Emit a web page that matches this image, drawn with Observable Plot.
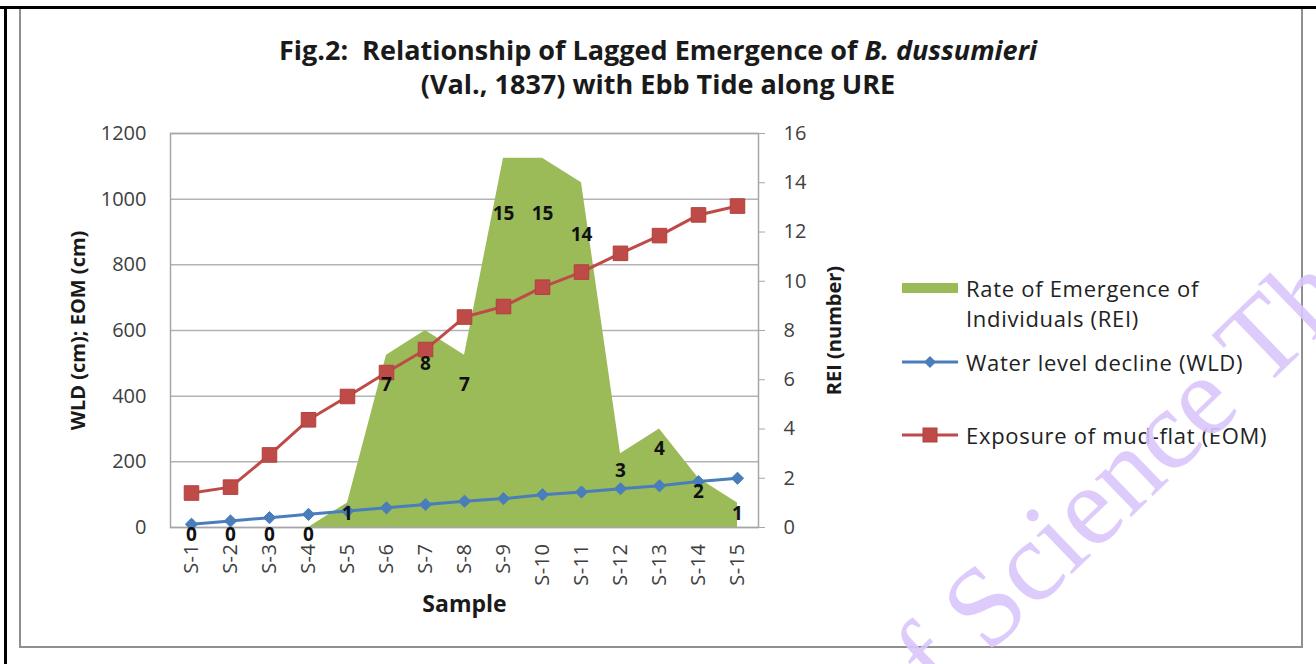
<!DOCTYPE html>
<html><head><meta charset="utf-8">
<script src="https://cdn.jsdelivr.net/npm/d3@7"></script>
<script src="https://cdn.jsdelivr.net/npm/@observablehq/plot@0.6"></script>
<style>
  body { margin: 0; background: #fff; }
  #page { position: relative; width: 1316px; height: 664px; overflow: hidden; font-family: "Open Sans", sans-serif; color: #222; }
  #outerTop { position: absolute; left: 0; top: 6px; width: 1316px; height: 3px; background: #000; }
  #outerLeft { position: absolute; left: 4px; top: 6px; width: 3px; height: 660px; background: #000; }
  #box { position: absolute; left: 19px; top: 9px; width: 1280px; height: 637px; border: 2px solid #8f8f8f; border-top: none; }
  #title { position: absolute; left: 0; width: 1316px; top: 33px; text-align: center; font-weight: bold; font-size: 27px; line-height: 34px; color: #1a1a1a; white-space: pre; }
  #chart { position: absolute; left: 0; top: 110px; }
  #legend { position: absolute; left: 900px; top: 273px; font-size: 22px; letter-spacing: 0.7px; color: #222; }
  .li { position: absolute; left: 0; white-space: nowrap; }
  .li svg { position: absolute; left: 0; }
  .li span { position: absolute; left: 66px; line-height: 30px; }
  #wm { position: absolute; left: 0; top: 0; pointer-events: none; }
</style>
</head><body>
<div id="page">
  <div id="outerTop"></div>
  <div id="outerLeft"></div>
  <div id="box"></div>
  <div id="title">Fig.2:  Relationship of Lagged Emergence of <i>B. dussumieri</i>
(Val., 1837) with Ebb Tide along URE</div>
  <div id="chart"></div>
  <div id="legend"></div>
  <svg id="wm" width="1316" height="664"></svg>
</div>
<script>
// ---- data ----
const samples = ["S-1","S-2","S-3","S-4","S-5","S-6","S-7","S-8","S-9","S-10","S-11","S-12","S-13","S-14","S-15"];
const rei = [0,0,0,0,1,7,8,7,15,15,14,3,4,2,1];               // Rate of Emergence of Individuals (right axis)
const wld = [10,20,30,40,50,60,70,80,88,100,108,118,127,140,150]; // Water level decline (cm)
const eom = [105,123,221,328,399,472,542,641,673,732,778,835,889,952,979]; // Exposure of mud-flat (cm)
const leftTicks = [0,200,400,600,800,1000,1200];
const rightTicks = [0,2,4,6,8,10,12,14,16];
const seriesNames = ["Rate of Emergence of\nIndividuals (REI)", "Water level decline (WLD)", "Exposure of mud-flat (EOM)"];

const LEFT_MAX = 1200, RIGHT_MAX = 16, k = LEFT_MAX / RIGHT_MAX;
const GREEN = "#9bbb59", BLUE = "#4a7ebb", RED = "#be4b48";

const rows = samples.map((s, i) => ({sample: s, rei: rei[i], wld: wld[i], eom: eom[i]}));

const chart = Plot.plot({
  width: 1316, height: 530,
  marginLeft: 170, marginRight: 558, marginTop: 23, marginBottom: 113,
  style: {fontFamily: "Open Sans, sans-serif", fontSize: "20px", color: "#404040", background: "transparent"},
  x: {type: "point", domain: samples, padding: 0.5},
  y: {domain: [0, LEFT_MAX]},
  marks: [
    Plot.gridY(leftTicks, {stroke: "#b3b3b3", strokeOpacity: 1, strokeWidth: 1.5}),
    Plot.areaY(rows, {x: "sample", y: d => d.rei * k, fill: GREEN, curve: "linear"}),
    Plot.frame({stroke: "#a6a6a6", strokeWidth: 1.5}),
    Plot.axisY(leftTicks, {anchor: "left", tickSize: 0, tickPadding: 24, fontSize: 20,
      tickFormat: d => String(d),
      label: "WLD (cm); EOM (cm)", labelAnchor: "center", labelArrow: "none", labelOffset: 100}),
    Plot.axisY(rightTicks.map(t => t * k), {anchor: "right", tickSize: 6, tickPadding: 19, stroke: "#a6a6a6",
      tickFormat: d => String(d / k), fontSize: 20,
      label: "REI (number)", labelAnchor: "center", labelArrow: "none", labelOffset: 82}),
    Plot.axisX({anchor: "bottom", tickSize: 0, tickPadding: 16, tickRotate: -90, fontSize: 20,
      label: "Sample", labelAnchor: "center", labelArrow: "none", labelOffset: 84}),
    Plot.line(rows, {x: "sample", y: "wld", stroke: BLUE, strokeWidth: 3}),
    Plot.dot(rows, {x: "sample", y: "wld", symbol: "diamond2", fill: BLUE, stroke: BLUE, strokeWidth: 1, r: 5.5}),
    Plot.line(rows, {x: "sample", y: "eom", stroke: RED, strokeWidth: 3}),
    Plot.dot(rows, {x: "sample", y: "eom", symbol: "square", fill: RED, stroke: "#b0403d", strokeWidth: 1, r: 8.2}),
    Plot.text(rows, {x: "sample", y: d => (d.rei * 0.87 - 0.3) * k, text: d => String(d.rei),
      fontWeight: "bold", fontSize: 19, fill: "#111"})
  ]
});
document.getElementById("chart").appendChild(chart);

// bold axis titles only (not tick labels)
chart.querySelectorAll("[aria-label='y-axis label'] text, [aria-label='x-axis label'] text").forEach(t => {
  t.setAttribute("font-weight", "bold"); t.setAttribute("fill", "#1a1a1a");
});
chart.querySelectorAll("[aria-label='x-axis label'] text").forEach(t => t.setAttribute("font-size", "23"));
chart.querySelectorAll("[aria-label='x-axis tick label'] text").forEach(t => t.setAttribute("letter-spacing", "0.5"));

// ---- legend ----
const legend = document.getElementById("legend");
const items = [
  {name: seriesNames[0], kind: "area", color: GREEN, top: 0},
  {name: seriesNames[1], kind: "diamond", color: BLUE, top: 74},
  {name: seriesNames[2], kind: "square", color: RED, top: 147}
];
items.forEach(it => {
  const div = document.createElement("div");
  div.className = "li";
  div.style.top = it.top + "px";
  let sw = "";
  if (it.kind === "area") sw = `<rect x="2" y="10" width="56" height="10" fill="${it.color}"/>`;
  if (it.kind === "diamond") sw = `<line x1="2" x2="58" y1="15" y2="15" stroke="${it.color}" stroke-width="3"/><path d="M30,9L36,15L30,21L24,15Z" fill="${it.color}"/>`;
  if (it.kind === "square") sw = `<line x1="2" x2="58" y1="15" y2="15" stroke="${it.color}" stroke-width="3"/><rect x="23" y="8" width="14" height="14" fill="${it.color}" stroke="#b0403d"/>`;
  const lines = it.name.split("\n");
  div.innerHTML = `<svg width="60" height="30">${sw}</svg>` +
    lines.map((l, i) => `<span style="top:${i * 30}px">${l}</span>`).join("");
  legend.appendChild(div);
});

// ---- watermark ----
const wm = document.getElementById("wm");
wm.innerHTML = `<g transform="translate(988,655) rotate(-44)" font-family="Liberation Serif, DejaVu Serif, serif" font-size="114" fill="#d9c6fb" fill-opacity="0.9">
  <text x="0" y="0">Science Th</text>
  <text x="-28" y="0" text-anchor="end">of</text>
</g>`;
</script>
</body></html>
